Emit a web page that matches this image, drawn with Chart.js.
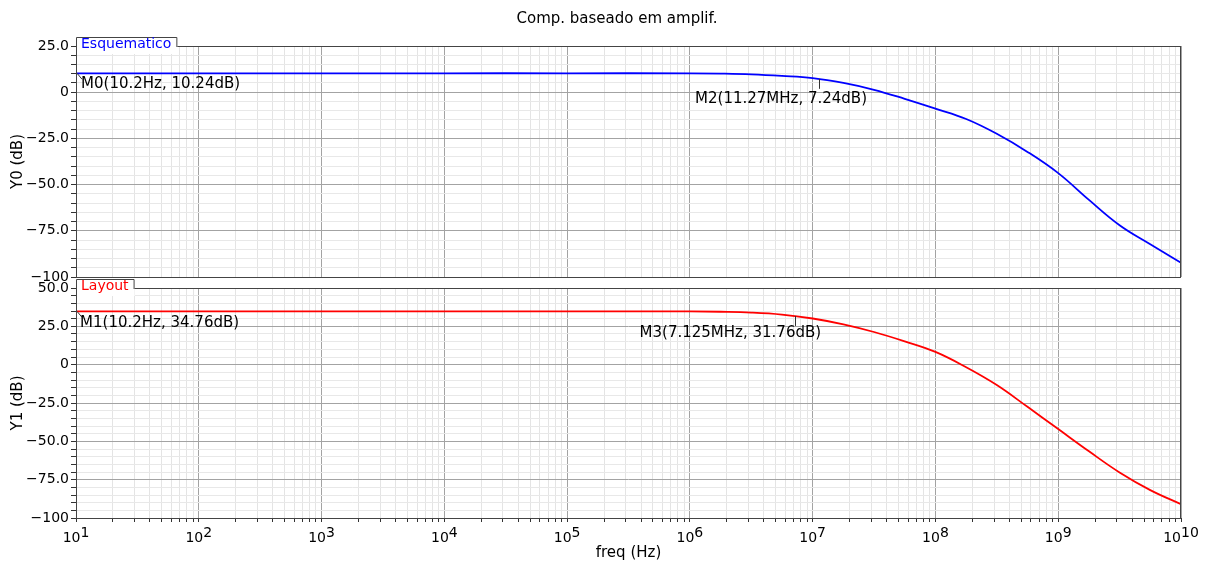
<!DOCTYPE html>
<html>
<head>
<meta charset="utf-8">
<title>Comp. baseado em amplif.</title>
<script src="https://cdn.jsdelivr.net/npm/chart.js@4.4.1/dist/chart.umd.min.js"></script>
<style>
  body { margin: 0; background: #fff; }
  #wrap { position: relative; width: 1216px; height: 566px; }
  canvas { position: absolute; left: 0; }
  #topChart { top: 0; }
  #bottomChart { top: 270px; }
</style>
</head>
<body>
<div id="wrap">
  <canvas id="topChart" width="1216" height="300"></canvas>
  <canvas id="bottomChart" width="1216" height="296"></canvas>
</div>
<script>
// frequency points (Hz)
const freqs = [10, 100, 1e3, 1e4, 1e5, 1e6, 1.78e6, 3.16e6, 5.62e6, 1e7, 1.78e7, 3.16e7, 5.62e7,
  1e8, 1.78e8, 3.16e8, 5.62e8, 1e9, 1.78e9, 3.16e9, 5.62e9, 1e10];
// Y0 (dB) - Esquematico
const esquematicoDb = [10.24, 10.24, 10.24, 10.24, 10.24, 10.22, 10.05, 9.65, 8.8, 7.6, 5.0, 1.3, -3.6,
  -8.9, -14.5, -22.5, -32.3, -43.8, -58.3, -72.0, -82.3, -92.3];
// Y1 (dB) - Layout
const layoutDb = [34.76, 34.76, 34.76, 34.76, 34.76, 34.72, 34.5, 34.0, 32.7, 30.1, 26.3, 21.3, 15.2,
  8.3, -1.7, -13.3, -27.5, -42.0, -56.5, -70.3, -81.8, -91.0];

const xTickValues = [1e1, 1e2, 1e3, 1e4, 1e5, 1e6, 1e7, 1e8, 1e9, 1e10];
const xTickExponents = ['1', '2', '3', '4', '5', '6', '7', '8', '9', '10'];
const y0TickValues = [-100, -75, -50, -25, 0, 25];
const y0TickLabels = ['−100', '−75.0', '−50.0', '−25.0', '0', '25.0'];
const y1TickValues = [-100, -75, -50, -25, 0, 25, 50];
const y1TickLabels = ['−100', '−75.0', '−50.0', '−25.0', '0', '25.0', '50.0'];

// markers
const y0MarkerTexts = ['M0(10.2Hz, 10.24dB)', 'M2(11.27MHz, 7.24dB)'];
const y0MarkerFreqs = [10.2, 11.27e6];
const y0MarkerDb = [10.24, 7.24];
const y1MarkerTexts = ['M1(10.2Hz, 34.76dB)', 'M3(7.125MHz, 31.76dB)'];
const y1MarkerFreqs = [10.2, 7.125e6];
const y1MarkerDb = [34.76, 31.76];

Chart.defaults.font.family = '"DejaVu Sans", sans-serif';
Chart.defaults.color = '#000';

function buildXTicks(axis) {
    const ticks = [];
    xTickValues.forEach((v, i) => {
        ticks.push({ value: v });
        if (i < xTickValues.length - 1) {
            for (let k = 2; k <= 9; k++) ticks.push({ value: v * k });
        }
    });
    axis.ticks = ticks;
}

function buildYTicks(majors) {
    return function (axis) {
        const ticks = [];
        for (let v = majors[0]; v <= majors[majors.length - 1]; v += 5) ticks.push({ value: v });
        axis.ticks = ticks;
    };
}

function xGridColor(ctx) {
    if (!ctx.tick) return '#e4e4e4';
    return xTickValues.includes(ctx.tick.value) ? '#a3a3a3' : '#e4e4e4';
}

// "10" with a raised exponent under each decade
const decadeLabels = {
    id: 'decadeLabels',
    afterDraw(chart) {
        const { ctx, chartArea: a } = chart;
        const x = chart.scales.x;
        ctx.save();
        ctx.font = '14px "DejaVu Sans"';
        ctx.fillStyle = '#000';
        ctx.textBaseline = 'alphabetic';
        ctx.textAlign = 'left';
        xTickValues.forEach((v, i) => {
            const px = x.getPixelForValue(v);
            const wb = ctx.measureText('10').width;
            const we = ctx.measureText(xTickExponents[i]).width;
            const left = px - (wb + we) / 2;
            ctx.fillText('10', left, a.bottom + 24);
            ctx.fillText(xTickExponents[i], left + wb, a.bottom + 19);
        });
        ctx.restore();
    }
};

function panelPlugin(name, color, texts, mFreqs, mDb, offsets) {
    return {
        id: 'panel_' + name,
        afterDraw(chart) {
            const { ctx, chartArea: a } = chart;
            const x = chart.scales.x, y = chart.scales.y;
            ctx.save();
            ctx.strokeStyle = '#444';
            ctx.lineWidth = 1;
            ctx.strokeRect(a.left + 0.5, a.top + 0.5, a.right - a.left - 1, a.bottom - a.top);

            // name tab
            ctx.font = '14px "DejaVu Sans"';
            const w = ctx.measureText(name).width + 10;
            ctx.fillStyle = '#fff';
            ctx.fillRect(a.left + 1, a.top - 9, w, 17);
            ctx.beginPath();
            ctx.moveTo(a.left + 0.5, a.top);
            ctx.lineTo(a.left + 0.5, a.top - 8.5);
            ctx.lineTo(a.left + w + 0.5, a.top - 8.5);
            ctx.lineTo(a.left + w + 0.5, a.top + 1);
            ctx.stroke();
            ctx.fillStyle = color;
            ctx.textBaseline = 'alphabetic';
            ctx.fillText(name, a.left + 5, a.top + 2);

            // markers
            ctx.font = '15px "DejaVu Sans"';
            ctx.textBaseline = 'middle';
            texts.forEach((t, i) => {
                const px = x.getPixelForValue(mFreqs[i]);
                const py = y.getPixelForValue(mDb[i]);
                const o = offsets[i];
                ctx.strokeStyle = '#333';
                ctx.beginPath();
                if (o.diag) {
                    ctx.moveTo(px, py);
                    ctx.lineTo(px + 5, py + 6);
                } else {
                    ctx.moveTo(Math.round(px) + 0.5, py);
                    ctx.lineTo(Math.round(px) + 0.5, py + 10);
                }
                ctx.stroke();
                ctx.fillStyle = '#000';
                ctx.fillText(t, px + o.dx, py + o.dy);
            });
            ctx.restore();
        }
    };
}

function makeChart(id, opts) {
    const plugins = [opts.plugin];
    if (opts.showX) plugins.push(decadeLabels);
    return new Chart(document.getElementById(id), {
        type: 'line',
        data: {
            datasets: [{
                data: freqs.map((f, i) => ({ x: f, y: opts.values[i] })),
                borderColor: opts.color,
                borderWidth: 1.8,
                pointRadius: 0,
                tension: 0.4,
                fill: false
            }]
        },
        options: {
            responsive: false,
            animation: false,
            devicePixelRatio: 1,
            layout: { padding: opts.padding },
            plugins: {
                legend: { display: false },
                tooltip: { enabled: false },
                title: opts.title
            },
            scales: {
                x: {
                    type: 'logarithmic',
                    min: 10,
                    max: 1e10,
                    afterBuildTicks: buildXTicks,
                    afterFit: s => { s.height = opts.xHeight; },
                    grid: { color: xGridColor, drawTicks: opts.showX, tickLength: 4, tickColor: '#333' },
                    border: { display: false },
                    ticks: { display: false, autoSkip: false },
                    title: { display: opts.showX, text: 'freq (Hz)', font: { size: 15 }, padding: { top: 0, bottom: 4 } }
                },
                y: {
                    type: 'linear',
                    min: opts.tickValues[0],
                    max: opts.tickValues[opts.tickValues.length - 1],
                    afterBuildTicks: buildYTicks(opts.tickValues),
                    afterFit: s => { s.width = 76 - opts.padding.left; },
                    grid: {
                        color: ctx => ctx.tick && opts.tickValues.includes(ctx.tick.value) ? '#a3a3a3' : '#e8e8e8',
                        tickLength: 5,
                        tickColor: '#333'
                    },
                    border: { display: false },
                    ticks: {
                        autoSkip: false,
                        padding: 2,
                        font: { size: 14 },
                        callback: v => {
                            const i = opts.tickValues.indexOf(v);
                            return i >= 0 ? opts.tickLabels[i] : '';
                        }
                    },
                    title: {
                        display: true,
                        text: opts.yTitle,
                        font: { size: 15 },
                        padding: { top: 9 - opts.padding.left, bottom: 0 }
                    }
                },
                // empty strip on the right, keeps the plot clear of the canvas edge
                yRight: {
                    type: 'linear',
                    position: 'right',
                    display: true,
                    afterFit: s => { s.width = 35; },
                    grid: { display: false },
                    border: { display: false },
                    ticks: { display: false }
                }
            }
        },
        plugins: plugins
    });
}

makeChart('topChart', {
    values: esquematicoDb,
    color: '#0000ff',
    yTitle: 'Y0 (dB)',
    tickValues: y0TickValues,
    tickLabels: y0TickLabels,
    showX: false,
    xHeight: 5,
    padding: { left: 18, right: 0, top: 0, bottom: 18 },
    title: {
        display: true,
        text: 'Comp. baseado em amplif.',
        font: { size: 15, weight: 'normal' },
        padding: { top: 10, bottom: 18 }
    },
    plugin: panelPlugin('Esquematico', '#0000ff', y0MarkerTexts, y0MarkerFreqs, y0MarkerDb,
        [{ dx: 4, dy: 11, diag: true }, { dx: -124, dy: 20 }])
});

makeChart('bottomChart', {
    values: layoutDb,
    color: '#ff0000',
    yTitle: 'Y1 (dB)',
    tickValues: y1TickValues,
    tickLabels: y1TickLabels,
    showX: true,
    xHeight: 48,
    padding: { left: 18, right: 0, top: 18, bottom: 0 },
    title: { display: false },
    plugin: panelPlugin('Layout', '#ff0000', y1MarkerTexts, y1MarkerFreqs, y1MarkerDb,
        [{ dx: 3, dy: 12, diag: true }, { dx: -155, dy: 17 }])
});
</script>
</body>
</html>
